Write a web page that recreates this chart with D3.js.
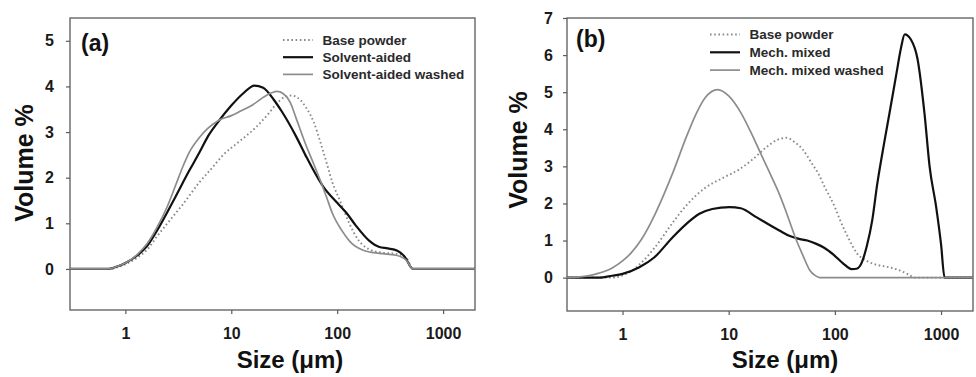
<!DOCTYPE html>
<html><head><meta charset="utf-8">
<script src="https://cdn.jsdelivr.net/npm/d3@7"></script>
<style>
body{margin:0;background:#fff}
svg{display:block}
text{font-family:"Liberation Sans",Arial,sans-serif;font-weight:bold}
</style></head>
<body><svg id="c" width="976" height="377"></svg>
<script>
// ---------- DATA ----------
const xTicks = [1, 10, 100, 1000];
const yTicksA = [0, 1, 2, 3, 4, 5];
const yTicksB = [0, 1, 2, 3, 4, 5, 6, 7];

const legendA = ["Base powder", "Solvent-aided", "Solvent-aided washed"];
const legendB = ["Base powder", "Mech. mixed", "Mech. mixed washed"];

// Panel (a)
const sizesBaseA  = [0.3, 0.72, 0.85, 1, 1.3, 1.6, 2, 2.64, 3.5, 5, 6.5, 8.4, 12, 17, 22, 27, 32, 37, 45, 52, 60, 70, 80, 90, 106, 130, 160, 200, 260, 360, 450, 520, 2000];
const valuesBaseA = [0, 0, 0.04, 0.1, 0.25, 0.42, 0.72, 1.07, 1.42, 1.9, 2.2, 2.5, 2.8, 3.1, 3.38, 3.63, 3.77, 3.8, 3.7, 3.5, 3.22, 2.75, 2.3, 1.9, 1.5, 1.0, 0.62, 0.43, 0.36, 0.33, 0.24, 0, 0];

const sizesSolvent  = [0.3, 0.68, 0.85, 1, 1.3, 1.6, 2, 3, 4, 5, 6, 7.5, 10, 13, 16.5, 20, 25, 30, 41, 50, 74, 100, 123, 150, 200, 250, 300, 370, 430, 520, 2000];
const valuesSolvent = [0, 0, 0.06, 0.13, 0.3, 0.5, 0.85, 1.6, 2.15, 2.55, 2.9, 3.22, 3.58, 3.85, 4.02, 3.97, 3.72, 3.45, 2.9, 2.5, 1.8, 1.45, 1.22, 0.95, 0.62, 0.48, 0.45, 0.4, 0.28, 0, 0];

const sizesSolventW  = [0.3, 0.68, 0.85, 1, 1.3, 1.6, 2, 2.5, 3, 3.5, 4, 5, 6, 7.5, 10, 12, 16, 20, 24, 27, 31, 36, 41, 50, 60, 69, 80, 90, 110, 132, 176, 250, 360, 450, 520, 2000];
const valuesSolventW = [0, 0, 0.06, 0.13, 0.32, 0.55, 0.92, 1.38, 1.85, 2.25, 2.55, 2.88, 3.08, 3.25, 3.36, 3.45, 3.6, 3.76, 3.86, 3.89, 3.84, 3.65, 3.3, 2.75, 2.3, 1.95, 1.55, 1.22, 0.85, 0.6, 0.41, 0.34, 0.3, 0.19, 0, 0];

// Panel (b)
const sizesBaseB  = [0.3, 0.8, 1, 1.16, 1.5, 2, 3, 4, 6, 9, 12.6, 17, 22.7, 28, 35, 42, 50, 60, 70, 80, 100, 112, 135, 161, 200, 231, 300, 412, 480, 540, 560, 2000];
const valuesBaseB = [0, 0, 0.06, 0.14, 0.4, 0.8, 1.5, 1.95, 2.42, 2.7, 2.92, 3.2, 3.52, 3.7, 3.77, 3.65, 3.45, 3.1, 2.8, 2.45, 1.9, 1.55, 1.05, 0.66, 0.45, 0.37, 0.3, 0.19, 0.1, 0.02, 0, 0];

const sizesMech  = [0.3, 0.6, 0.8, 1, 1.44, 2, 2.97, 4, 5.3, 7, 10.2, 13, 18.2, 25, 30, 37.7, 45, 55, 67, 80, 97, 120, 144, 160, 173, 200, 225, 250, 290, 330, 380, 420, 455, 520, 600, 700, 780, 900, 1000, 1080, 2000];
const valuesMech = [0, 0, 0.05, 0.1, 0.28, 0.55, 1.09, 1.45, 1.72, 1.85, 1.9, 1.87, 1.63, 1.4, 1.27, 1.12, 1.05, 1.0, 0.91, 0.8, 0.62, 0.38, 0.23, 0.24, 0.32, 0.85, 1.55, 2.5, 3.6, 4.5, 5.5, 6.2, 6.56, 6.42, 5.9, 4.4, 3.0, 1.9, 0.9, 0, 0];

const sizesMechW  = [0.3, 0.4, 0.5, 0.6, 0.8, 1, 1.2, 1.5, 2, 2.5, 3, 4, 5, 6, 7.9, 10, 13, 16, 20, 26, 30, 35, 43.5, 50, 58, 65, 72, 2000];
const valuesMechW = [0, 0.02, 0.06, 0.12, 0.26, 0.45, 0.66, 1.02, 1.68, 2.3, 2.85, 3.8, 4.45, 4.85, 5.07, 4.9, 4.45, 3.95, 3.35, 2.65, 2.25, 1.75, 1.0, 0.6, 0.2, 0.06, 0, 0];

// ---------- DRAW ----------
const svg = d3.select("#c");
const styles = [
  {stroke: "#8a8a8a", width: 1.9, dash: "1.6,2.6"},
  {stroke: "#111", width: 2.2, dash: null},
  {stroke: "#8c8c8c", width: 1.7, dash: null}
];

function zip(xs, ys){ return xs.map((x, i) => ({x: x, y: ys[i]})); }

function drawPanel(p){
  const g = svg.append("g");
  const x = d3.scaleLog().domain([0.3, 2000]).range([p.left, p.right]);
  const y = d3.scaleLinear().domain(p.yDomain).range([p.bottom, p.top]);

  // frame
  g.append("rect").attr("x", p.left).attr("y", p.top)
    .attr("width", p.right - p.left).attr("height", p.bottom - p.top)
    .attr("fill", "none").attr("stroke", "#5a5a5a").attr("stroke-width", 1.3);

  const ax = g.append("g").attr("transform", `translate(0,${p.bottom})`)
    .call(d3.axisBottom(x).tickValues(xTicks).tickFormat(d3.format("d")).tickSize(4).tickPadding(14));
  const ay = g.append("g").attr("transform", `translate(${p.left},0)`)
    .call(d3.axisLeft(y).tickValues(p.yTicks).tickFormat(d3.format("d")).tickSize(4).tickPadding(p.yPad));
  [ax, ay].forEach(a => {
    a.select(".domain").remove();
    a.selectAll(".tick line").attr("stroke", "#5a5a5a").attr("stroke-width", 1.2);
    a.selectAll(".tick text").attr("fill", "#1a1a1a").style("font-size", "16px");
  });

  const line = d3.line().x(d => x(d.x)).y(d => y(d.y)).curve(d3.curveMonotoneX);
  [0, 1, 2].forEach(i => {
    const s = styles[i];
    const path = g.append("path").datum(zip(p.series[i][0], p.series[i][1]))
      .attr("d", line).attr("fill", "none")
      .attr("stroke", s.stroke).attr("stroke-width", s.width)
      .attr("stroke-linejoin", "round");
    if (s.dash) path.attr("stroke-dasharray", s.dash);
  });

  // legend
  p.legend.forEach((name, i) => {
    const s = styles[i];
    const yy = p.legY + i * p.legStep;
    const l = g.append("line").attr("x1", p.legX).attr("x2", p.legX + 30)
      .attr("y1", yy).attr("y2", yy)
      .attr("stroke", s.stroke).attr("stroke-width", s.width);
    if (s.dash) l.attr("stroke-dasharray", s.dash);
    g.append("text").attr("x", p.legX + 39.5).attr("y", yy + 4.8)
      .attr("fill", "#2a2a2a").style("font-size", "13.5px").text(name);
  });

  // panel label
  g.append("text").attr("x", p.labX).attr("y", p.labY)
    .attr("fill", "#111").style("font-size", "23px").text(p.label);

  // axis titles
  g.append("text").attr("x", p.xtX).attr("y", 368).attr("text-anchor", "middle")
    .attr("fill", "#111").style("font-size", "24px").text("Size (μm)");
  g.append("text").attr("transform", `translate(${p.ytX},${p.ytY}) rotate(-90)`)
    .attr("text-anchor", "middle").attr("fill", "#111")
    .style("font-size", "25px").text("Volume %");
}

drawPanel({
  left: 70, right: 475, top: 18, bottom: 310, yDomain: [-0.9, 5.5], yTicks: yTicksA, yPad: 12,
  series: [[sizesBaseA, valuesBaseA], [sizesSolvent, valuesSolvent], [sizesSolventW, valuesSolventW]],
  legend: legendA, legX: 283, legY: 40, legStep: 17.2,
  label: "(a)", labX: 81, labY: 51,
  xtX: 290, ytX: 33, ytY: 163
});
drawPanel({
  left: 567, right: 973, top: 18, bottom: 311, yDomain: [-0.9, 7], yTicks: yTicksB, yPad: 10,
  series: [[sizesBaseB, valuesBaseB], [sizesMech, valuesMech], [sizesMechW, valuesMechW]],
  legend: legendB, legX: 710, legY: 34.5, legStep: 17.8,
  label: "(b)", labX: 576, labY: 47,
  xtX: 785, ytX: 527, ytY: 150
});
</script></body></html>
